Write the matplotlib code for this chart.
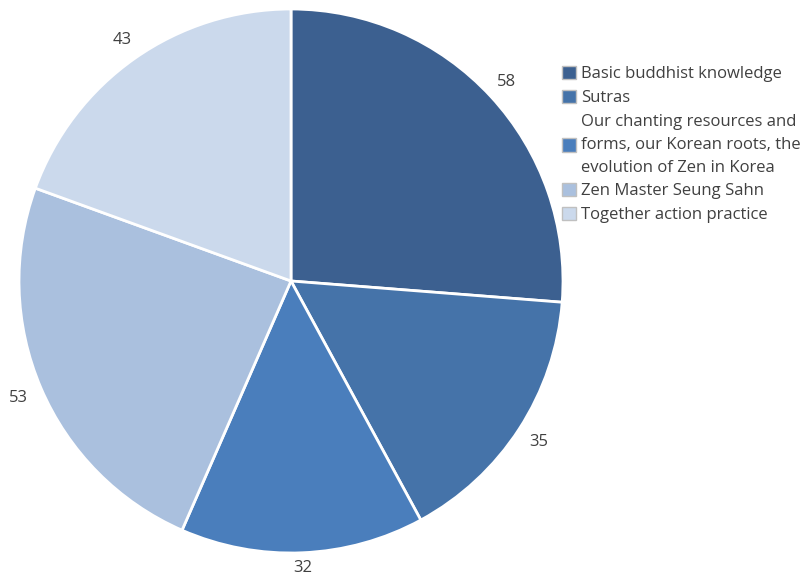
import numpy as np
import matplotlib.pyplot as plt
from matplotlib.patches import Patch

# topic counts, clockwise from 12 o'clock
topics = [
    "Basic buddhist knowledge",
    "Sutras",
    "Our chanting resources and\nforms, our Korean roots, the\nevolution of Zen in Korea",
    "Zen Master Seung Sahn",
    "Together action practice",
]
counts = [58, 35, 32, 53, 43]
colors = ["#3C6090", "#4573A9", "#4A7EBC", "#AAC0DE", "#CBD9EC"]
label_dist = [1.08, 1.085, 1.055, 1.09, 1.08]

plt.rcParams["font.family"] = ["Open Sans", "DejaVu Sans"]

fig = plt.figure(figsize=(8.1, 5.79), dpi=100)
ax = fig.add_axes([19 / 810, 26 / 579, 544 / 810, 544 / 579])

wedges, _ = ax.pie(
    counts, colors=colors, startangle=90, counterclock=False,
    wedgeprops=dict(edgecolor="white", linewidth=2),
)
# value labels just outside each wedge
for w, c, d in zip(wedges, counts, label_dist):
    mid = np.deg2rad((w.theta1 + w.theta2) / 2)
    ax.text(d * np.cos(mid), d * np.sin(mid), str(c), ha="center", va="center",
            color="#404040", fontsize=12)
ax.set_xlim(-1, 1)
ax.set_ylim(-1, 1)
ax.set_aspect("equal")

handles = [Patch(facecolor=c, edgecolor="#c0c0c0", linewidth=1) for c in colors]
leg = fig.legend(handles, topics, loc="upper left",
                 bbox_to_anchor=(562 / 810, 1 - 66 / 579),
                 frameon=False, fontsize=12, handlelength=0.85, handleheight=0.85,
                 handletextpad=0.3, labelspacing=0.45, borderpad=0,
                 borderaxespad=0)
for t in leg.get_texts():
    t.set_color("#404040")
    t.set_linespacing(1.57)

fig.savefig("out.png", dpi=100)
